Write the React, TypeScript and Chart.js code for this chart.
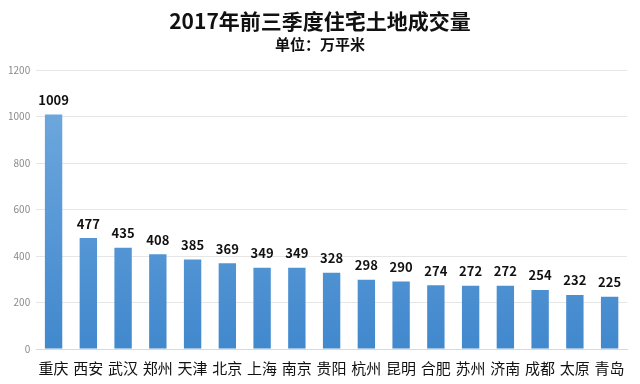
import React, { useEffect, useRef } from "react";
import { Chart, registerables } from "chart.js";

Chart.register(...registerables);

const categories = ["重庆", "西安", "武汉", "郑州", "天津", "北京", "上海", "南京", "贵阳", "杭州", "昆明", "合肥", "苏州", "济南", "成都", "太原", "青岛"];
const values = [1009, 477, 435, 408, 385, 369, 349, 349, 328, 298, 290, 274, 272, 272, 254, 232, 225];
const yTicks = [0, 200, 400, 600, 800, 1000, 1200];
const titleText = "2017年前三季度住宅土地成交量";
const subtitleText = "单位：万平米";

const FONT = "'Noto Sans CJK SC', 'Noto Sans', sans-serif";

const valueLabels = {
  id: "valueLabels",
  afterDatasetsDraw(chart: any) {
    const ctx = chart.ctx;
    const meta = chart.getDatasetMeta(0);
    ctx.save();
    ctx.font = `bold 13px ${FONT}`;
    ctx.fillStyle = "#111";
    ctx.textAlign = "center";
    ctx.textBaseline = "bottom";
    meta.data.forEach((bar: any, i: number) => {
      ctx.fillText(String(values[i]), bar.x, bar.y - 8);
    });
    ctx.restore();
  },
};

const headings = {
  id: "headings",
  afterDraw(chart: any) {
    const ctx = chart.ctx;
    const cx = chart.width / 2;
    ctx.save();
    ctx.fillStyle = "#111";
    ctx.textAlign = "center";
    ctx.textBaseline = "middle";
    ctx.font = `bold 21px ${FONT}`;
    ctx.fillText(titleText, cx, 21);
    ctx.font = `bold 15px ${FONT}`;
    ctx.fillText(subtitleText, cx, 44);
    ctx.restore();
  },
};

export default function App() {
  const ref = useRef<HTMLCanvasElement>(null);
  useEffect(() => {
    document.body.style.margin = "0";
    const canvas = ref.current!;
    const chart = new Chart(canvas, {
      type: "bar",
      data: {
        labels: categories,
        datasets: [
          {
            data: values,
            backgroundColor: (c: any) => {
              const { chart } = c;
              const area = chart.chartArea;
              if (!area) return "#5b9bd5";
              const g = chart.ctx.createLinearGradient(0, area.top, 0, area.bottom);
              g.addColorStop(0, "#74ace0");
              g.addColorStop(1, "#4188cd");
              return g;
            },
            borderWidth: 0,
            barPercentage: 0.5,
            categoryPercentage: 1,
          },
        ],
      },
      options: {
        animation: false,
        responsive: false,
        layout: { padding: { left: 2, right: 13, top: 70, bottom: 5 } },
        plugins: {
          legend: { display: false },
          tooltip: { enabled: false },
          title: { display: false },
        },
        scales: {
          x: {
            grid: { display: false },
            border: { display: true, color: "#d9d9d9" },
            ticks: {
              color: "#111",
              font: { family: FONT, size: 15 },
              padding: 2,
              maxRotation: 0,
              autoSkip: false,
            },
          },
          y: {
            min: 0,
            max: 1200,
            afterBuildTicks: (axis: any) => {
              axis.ticks = yTicks.map((v) => ({ value: v }));
            },
            grid: { color: "#e6e6e6", drawTicks: false },
            border: { display: false },
            ticks: {
              color: "#8a8a8a",
              font: { family: FONT, size: 10 },
              padding: 6,
              callback: (v: any) => String(v),
            },
          },
        },
      },
      plugins: [valueLabels, headings],
    });
    return () => chart.destroy();
  }, []);
  return (
    <div style={{ width: 640, height: 384, background: "#fff" }}>
      <canvas ref={ref} width={640} height={384} />
    </div>
  );
}
